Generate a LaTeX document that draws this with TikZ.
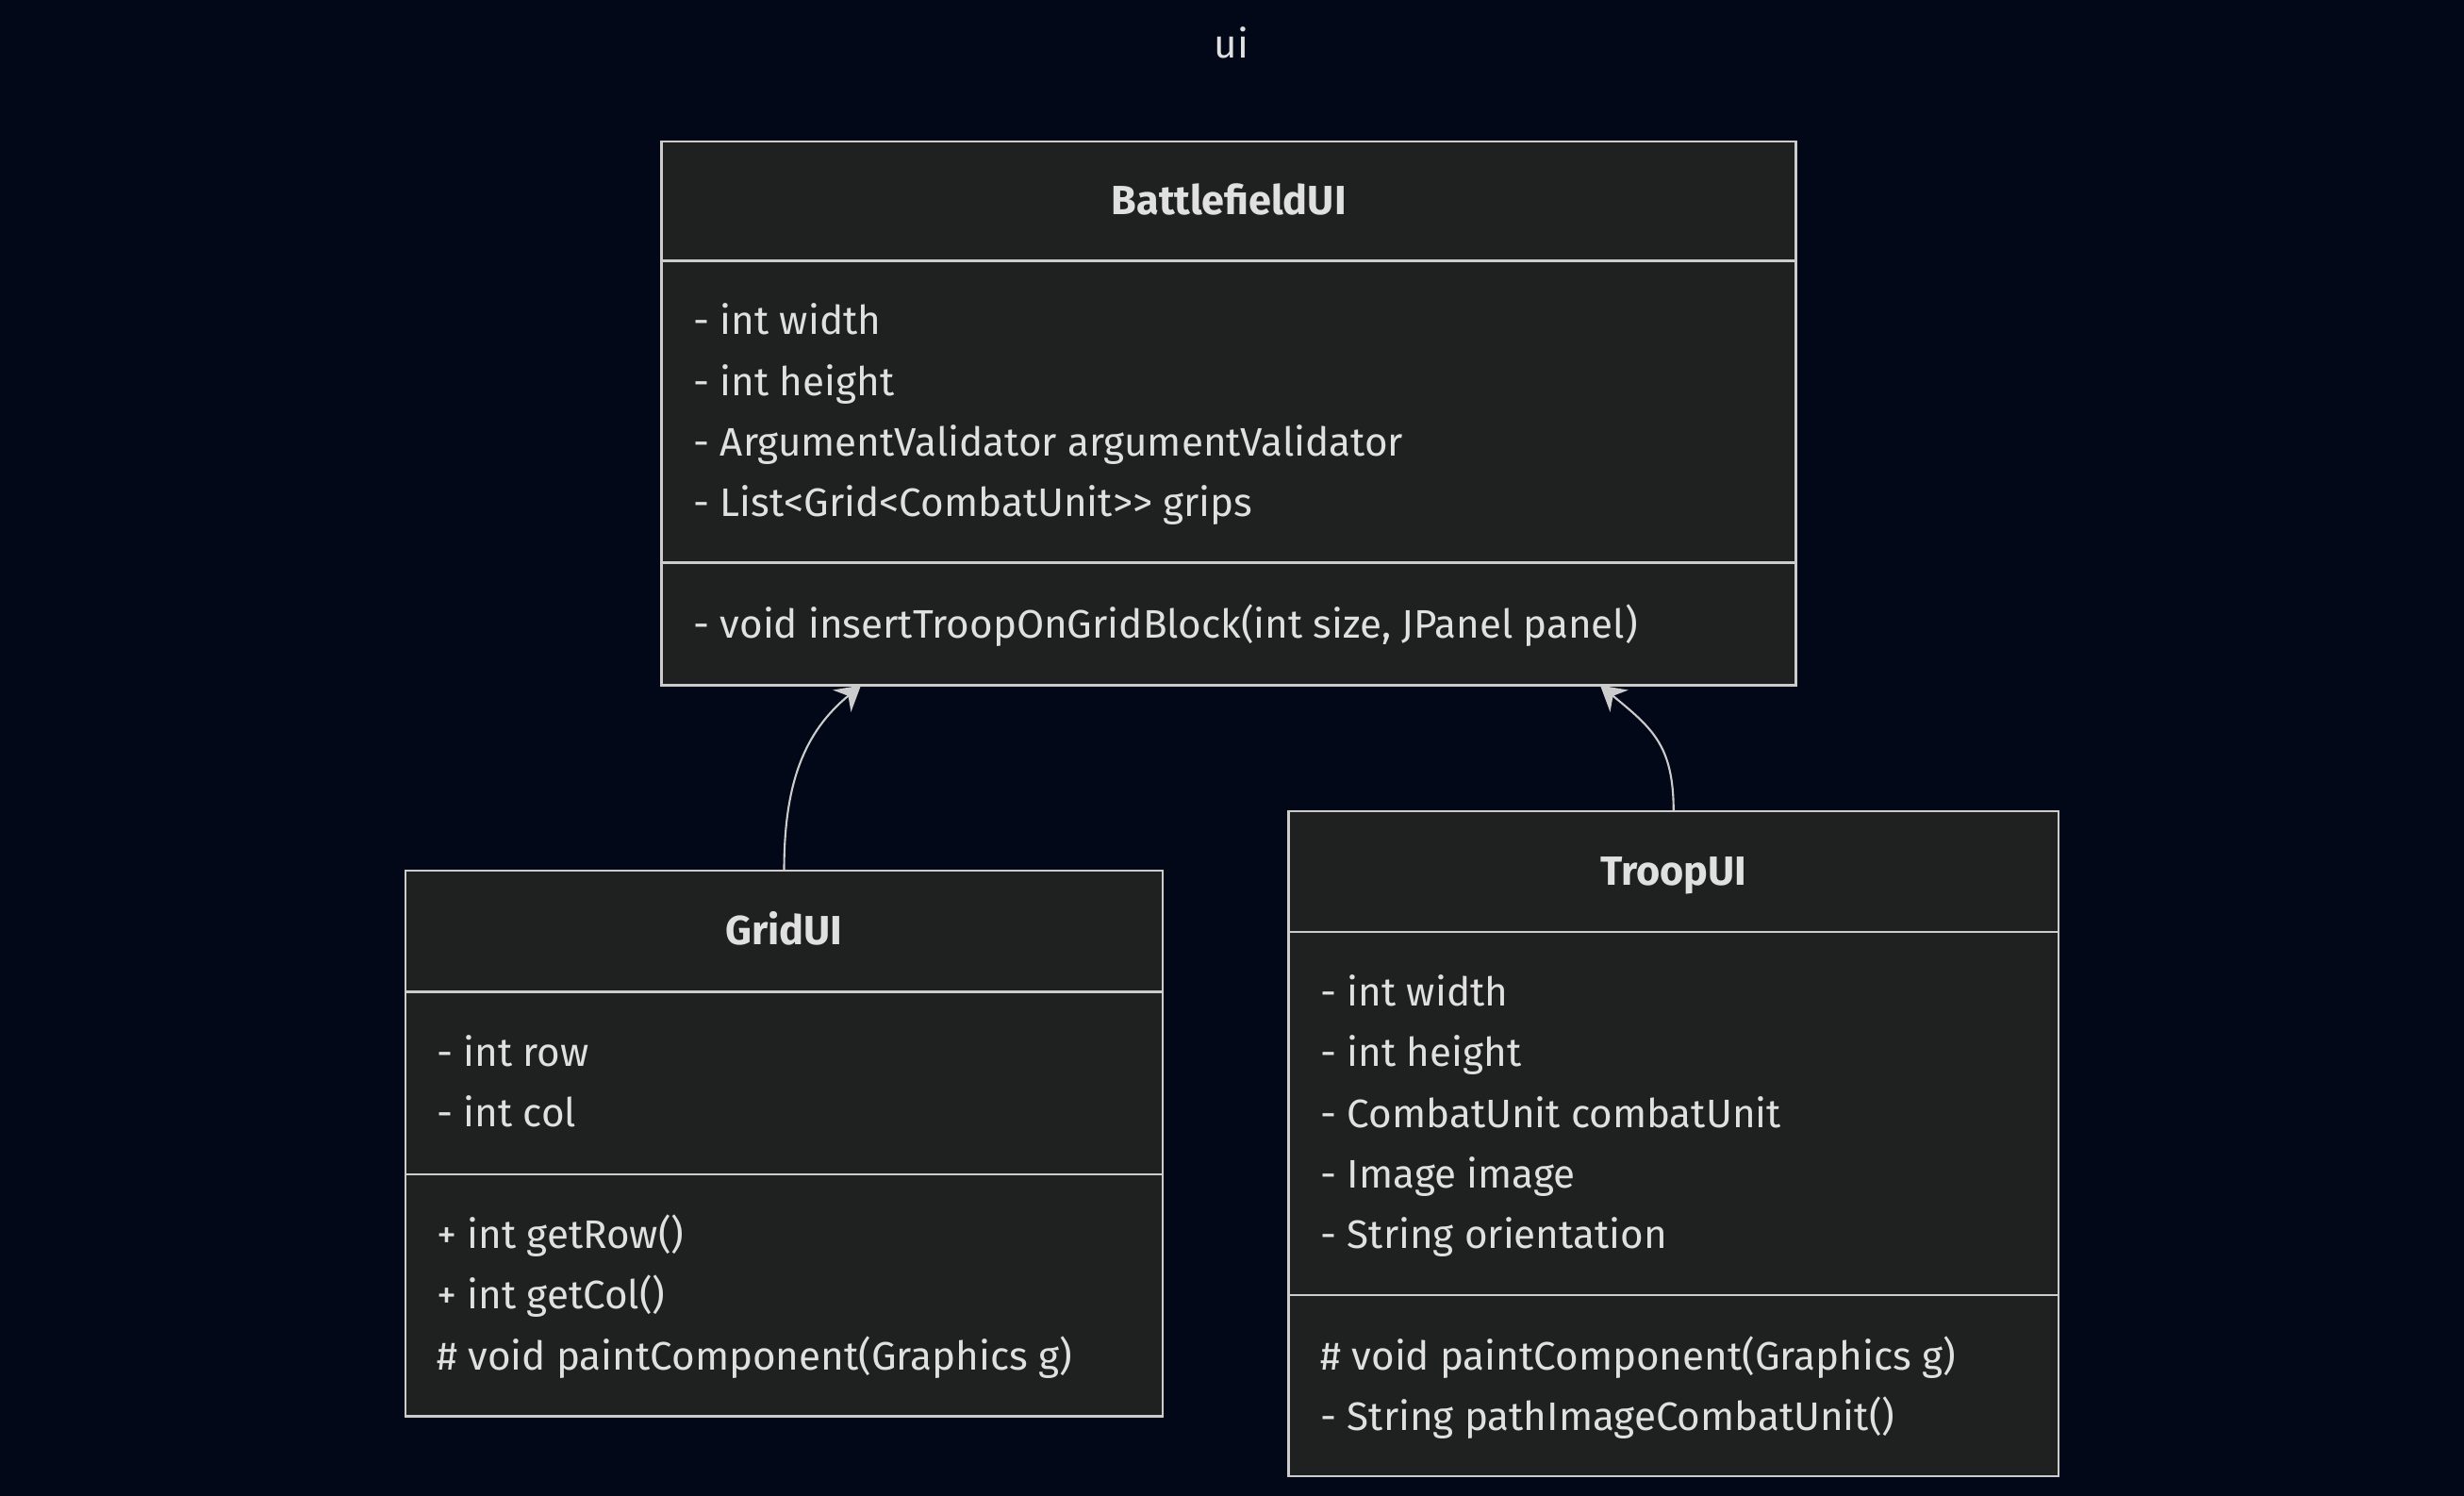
\documentclass[tikz,border=0pt]{standalone}
\usepackage{fontspec}
\setmainfont{Fira Sans}
\usetikzlibrary{arrows.meta}
\definecolor{bgnavy}{HTML}{020817}
\definecolor{boxgray}{HTML}{1F2020}
\definecolor{linegray}{HTML}{CCCCCC}
\definecolor{textgray}{HTML}{E0E0E0}

\begin{document}
\begin{tikzpicture}[x=1cm,y=-1cm,
    classbox/.style={draw=linegray,fill=boxgray,line width=0.8pt,inner sep=0pt,outer sep=0pt},
    divider/.style={draw=linegray,line width=0.8pt},
    member/.style={anchor=west,inner sep=0pt,yshift=-0.06cm,text height=0.7em,text depth=0.2em,text=textgray,font=\fontsize{12}{14}\selectfont},
    classname/.style={inner sep=0pt,yshift=-0.06cm,text height=0.7em,text depth=0.2em,text=textgray,font=\fontsize{12.3}{14}\selectfont\bfseries},
    inherit/.style={draw=linegray,line width=0.6pt,-{Stealth[length=0.26cm,width=0.3cm]}}]
    \fill[bgnavy] (0,0) rectangle (26.13,15.86);
    \useasboundingbox (0,0) rectangle (26.13,15.86);
    \node[inner sep=0pt,yshift=-0.06cm,text height=0.7em,text depth=0.2em,text=textgray,font=\fontsize{12}{14}\selectfont] (title) at (13.06,0.47) {ui};

    \node[classbox,minimum width=12.032cm,minimum height=5.766cm] (bf) at (13.032,4.383) {};
    \draw[divider] (bf.west |- 0,2.766) -- (bf.east |- 0,2.766);
    \draw[divider] (bf.west |- 0,5.966) -- (bf.east |- 0,5.966);
    \node[classname] (bfname) at (13.032,2.13) {BattlefieldUI};
    \node[member] (bfa1) at (7.35,3.40) {- int width};
    \node[member] (bfa2) at (7.35,4.045) {- int height};
    \node[member] (bfa3) at (7.35,4.69) {- ArgumentValidator argumentValidator};
    \node[member] (bfa4) at (7.35,5.33) {- List<Grid<CombatUnit>{}> grips};
    \node[member] (bfm1) at (7.35,6.616) {- void insertTroopOnGridBlock(int size, JPanel panel)};

    \node[classbox,minimum width=8.03cm,minimum height=5.785cm] (grid) at (8.315,12.1225) {};
    \draw[divider] (grid.west |- 0,10.516) -- (grid.east |- 0,10.516);
    \draw[divider] (grid.west |- 0,12.45) -- (grid.east |- 0,12.45);
    \node[classname] (gridname) at (8.315,9.87) {GridUI};
    \node[member] (grida1) at (4.63,11.155) {- int row};
    \node[member] (grida2) at (4.63,11.80) {- int col};
    \node[member] (gridm1) at (4.63,13.085) {+ int getRow()};
    \node[member] (gridm2) at (4.63,13.73) {+ int getCol()};
    \node[member] (gridm3) at (4.63,14.375) {\# void paintComponent(Graphics g)};

    \node[classbox,minimum width=8.165cm,minimum height=7.05cm] (troop) at (17.7475,12.125) {};
    \draw[divider] (troop.west |- 0,9.88) -- (troop.east |- 0,9.88);
    \draw[divider] (troop.west |- 0,13.73) -- (troop.east |- 0,13.73);
    \node[classname] (troopname) at (17.7475,9.24) {TroopUI};
    \node[member] (troopa1) at (14.0,10.515) {- int width};
    \node[member] (troopa2) at (14.0,11.16) {- int height};
    \node[member] (troopa3) at (14.0,11.805) {- CombatUnit combatUnit};
    \node[member] (troopa4) at (14.0,12.445) {- Image image};
    \node[member] (troopa5) at (14.0,13.09) {- String orientation};
    \node[member] (troopm1) at (14.0,14.375) {\# void paintComponent(Graphics g)};
    \node[member] (troopm2) at (14.0,15.015) {- String pathImageCombatUnit()};

    \draw[inherit] (grid.north) .. controls (8.315,8.3) and (8.53,7.76) .. (bf.south -| 9.13,0);
    \draw[inherit] (troop.north) .. controls (17.7475,7.9) and (17.52,7.72) .. (bf.south -| 16.97,0);
  \end{tikzpicture}
\end{document}
